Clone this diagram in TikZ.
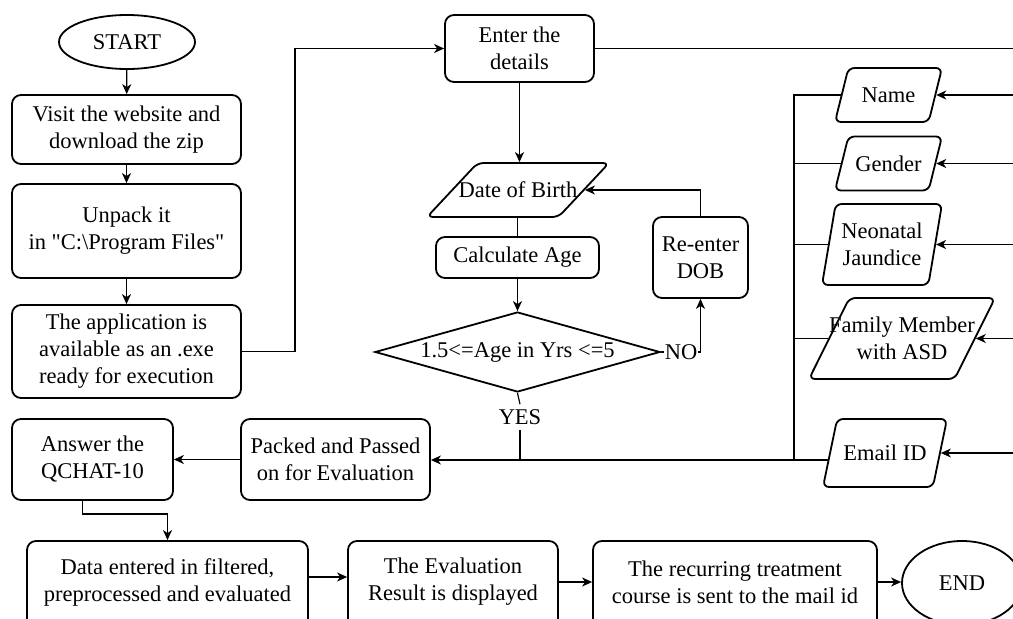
\documentclass[tikz,border=0pt]{standalone}
\usepackage{fontspec}
\setmainfont{Liberation Serif}[Ligatures=TeXOff]
\usetikzlibrary{shapes.geometric,arrows.meta}
\begin{document}
\begin{tikzpicture}[x=1pt,y=-1pt,
  font=\fontsize{22.5}{27}\selectfont,
  box/.style={draw, line width=1.8pt, rounded corners=9pt, align=center, inner sep=0pt},
  term/.style={draw, ellipse, line width=1.8pt, inner sep=0pt},
  para/.style={draw, trapezium, trapezium stretches=true, line width=1.8pt, rounded corners=6pt, inner sep=2pt},
  dia/.style={draw, diamond, line width=1.8pt, inner sep=2pt},
  conn/.style={line width=1.2pt},
  arr/.style={conn, -{Stealth[length=10pt,width=9pt,inset=3pt]}},
  lbl/.style={inner sep=1pt},
  boxtxt/.style={align=center, yshift=6pt}]
\useasboundingbox (0,0) rectangle (1013,619);

% left column
\node[term, minimum width=136pt, minimum height=54pt] (start) at (127,42) {START};
\node[box, minimum width=229pt, minimum height=69pt] (visit) at (126.5,129.5) {Visit the website and\\download the zip};
\node[box, minimum width=229pt, minimum height=94pt] (unpack) at (126.5,231) {Unpack it\\in "C:\textbackslash Program Files"};
\node[box, minimum width=229pt, minimum height=93pt] (app) at (126.5,351.5) {The application is\\available as an .exe\\ready for execution};

% middle column
\node[box, minimum width=149pt, minimum height=67pt] (enter) at (519.5,48.5) {Enter the\\details};
\node[para, trapezium left angle=58, trapezium right angle=122, minimum width=182pt, minimum height=54pt, label={center:Date of Birth}] (dob) at (518,190) {};
\node[box, minimum width=163pt, minimum height=41pt] (calc) at (517.5,257.5) {Calculate Age};
\node[dia, minimum width=285pt, minimum height=80pt, label={center:{1.5<=Age in Yrs <=5}}] (dec) at (517.5,352) {};
\node[lbl] (no) at (681,352) {NO};
\node[box, minimum width=95pt, minimum height=81pt] (reenter) at (700.5,257.5) {Re-enter\\DOB};
\node[inner sep=5pt] (yes) at (520,417) {YES};

% right column inputs
\node[para, trapezium left angle=80.5, trapezium right angle=99.5, minimum width=107pt, minimum height=54pt, label={center:Name}] (name) at (888.5,95) {};
\node[para, trapezium left angle=80.5, trapezium right angle=99.5, minimum width=107pt, minimum height=54pt, label={center:Gender}] (gender) at (888.5,163.5) {};
\node[para, trapezium left angle=81.6, trapezium right angle=98.4, minimum width=120pt, minimum height=81pt, label={[align=center]center:Neonatal\\Jaundice}] (neo) at (882,244.5) {};
\node[para, trapezium left angle=69, trapezium right angle=111, minimum width=186pt, minimum height=81pt, label={[align=center]center:Family Member\\with ASD}] (fam) at (902,338.5) {};
\node[para, trapezium left angle=81.6, trapezium right angle=98.4, minimum width=124pt, minimum height=68pt, label={center:Email ID}] (email) at (885,453) {};

% lower rows
\node[box, minimum width=161pt, minimum height=81pt] (answer) at (92.5,459.5) {Answer the\\QCHAT-10};
\node[box, minimum width=189pt, minimum height=81pt] (packed) at (335.5,459.5) {Packed and Passed\\on for Evaluation};
\node[box, minimum width=281pt, minimum height=94pt, label={[boxtxt]center:Data entered in filtered,\\preprocessed and evaluated}] (data) at (167.5,588) {};
\node[box, minimum width=210pt, minimum height=94pt, label={[boxtxt]center:The Evaluation\\Result is displayed}] (eval) at (453,588) {};
\node[box, minimum width=284pt, minimum height=94pt, label={[boxtxt]center:The recurring treatment\\course is sent to the mail id}] (recur) at (735,588) {};
\node[term, minimum width=120pt, minimum height=84pt] (end) at (962,583) {END};

% coordinates
\coordinate (r1) at (295,48.5);
\coordinate (rtop) at (1016,48.5);
\coordinate (rbot) at (1016,453);
\coordinate (bustop) at (794,95);
\coordinate (busbot) at (794,460);
\coordinate (elb) at (167.5,514);

% connectors
\draw[arr] (start) -- (visit);
\draw[arr] (visit) -- (unpack);
\draw[arr] (unpack) -- (app);
\draw[arr] (app.east) -- (app.east -| r1) -- (r1) -- (enter.west);
\draw[arr] (enter.south) -- (enter.south |- dob.north);
\draw[conn] (calc.north |- dob.south) -- (calc.north);
\draw[arr] (calc.south) -- (dec.north);
\draw[conn] (dec.east) -- (no.west);
\draw[arr] (no.east) -| (reenter.south);
\draw[arr] (reenter.north) |- (dob.east);
\draw[conn] (dec.south) -- (yes.north);
\draw[conn] (yes.south) -- (yes.south |- busbot);

\draw[conn] (enter.east) -- (rtop) -- (rbot);
\draw[arr] (rtop |- name.east) -- (name.east);
\draw[arr] (rtop |- gender.east) -- (gender.east);
\draw[arr] (rtop |- neo.east) -- (neo.east);
\draw[arr] (rtop |- fam.east) -- (fam.east);
\draw[arr] (rtop |- email.east) -- (email.east);

\draw[conn] (name.west) -- (bustop) -- (busbot);
\draw[conn] (gender.west) -- (gender.west -| bustop);
\draw[conn] (neo.west) -- (neo.west -| bustop);
\draw[conn] (fam.west) -- (fam.west -| bustop);
\draw[arr] (email.west |- busbot) -- (busbot -| packed.east);

\draw[arr] (packed.west) -- (answer.east);
\draw[arr] ([xshift=-10pt]answer.south) |- (elb) -- (data.north);
\draw[arr] ([yshift=11pt]data.east) -- ([yshift=11pt]eval.west);
\draw[arr] ([yshift=6pt]eval.east) -- ([yshift=6pt]recur.west);
\draw[arr] ([yshift=6pt]recur.east) -- (end.west |- 0,582);
\end{tikzpicture}
\end{document}
